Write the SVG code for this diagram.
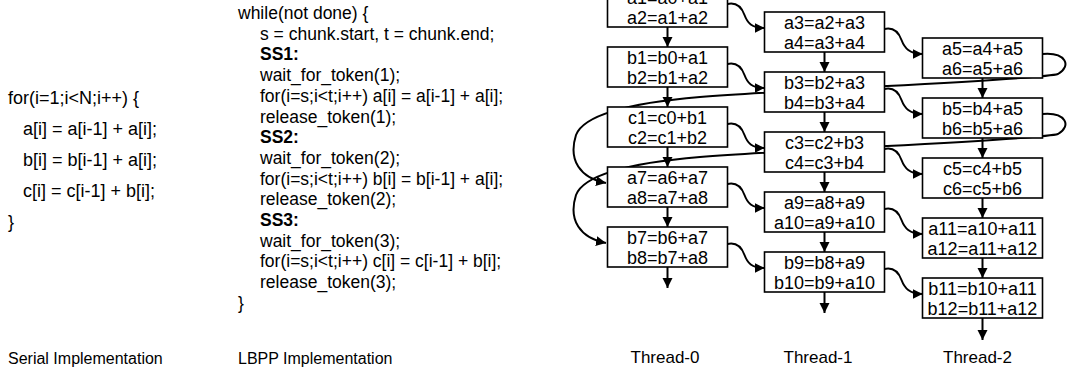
<svg xmlns="http://www.w3.org/2000/svg" width="1070" height="371" viewBox="0 0 1070 371">
<defs>
<style>
text{font-family:"Liberation Sans",Arial,sans-serif;fill:#000}
.code{font-size:18px}
.lb{font-size:17.5px}
.b{font-weight:bold}
.lab{font-size:16px}
.tl{font-size:17px;text-anchor:middle}
.box rect{fill:#fff;stroke:#000;stroke-width:1.6}
.box text{font-size:18px;text-anchor:middle}
.c{fill:none;stroke:#000;stroke-width:2;marker-end:url(#ah)}
</style>
<marker id="ah" markerUnits="userSpaceOnUse" markerWidth="11" markerHeight="11" refX="10" refY="5" orient="auto">
<path d="M0,0 L10,5 L0,10 z" fill="#000"/>
</marker>
</defs>
<rect width="1070" height="371" fill="#fff"/>

<g id="serial-code">
<text class="code" x="8" y="104">for(i=1;i&lt;N;i++) {</text>
<text class="code" x="23" y="135">a[i] = a[i-1] + a[i];</text>
<text class="code" x="23" y="166">b[i] = b[i-1] + a[i];</text>
<text class="code" x="23" y="197">c[i] = c[i-1] + b[i];</text>
<text class="code" x="8" y="228">}</text>
<text class="lab" x="8" y="364">Serial Implementation</text>
</g>

<g id="lbpp-code">
<text class="lb" x="238" y="19">while(not done) {</text>
<text class="lb" x="260" y="39.7">s = chunk.start, t = chunk.end;</text>
<text class="lb b" x="260" y="60.4">SS1:</text>
<text class="lb" x="260" y="81.1">wait_for_token(1);</text>
<text class="lb" x="260" y="101.8">for(i=s;i&lt;t;i++) a[i] = a[i-1] + a[i];</text>
<text class="lb" x="260" y="122.5">release_token(1);</text>
<text class="lb b" x="260" y="143.2">SS2:</text>
<text class="lb" x="260" y="163.9">wait_for_token(2);</text>
<text class="lb" x="260" y="184.6">for(i=s;i&lt;t;i++) b[i] = b[i-1] + a[i];</text>
<text class="lb" x="260" y="205.3">release_token(2);</text>
<text class="lb b" x="260" y="226">SS3:</text>
<text class="lb" x="260" y="246.7">wait_for_token(3);</text>
<text class="lb" x="260" y="267.4">for(i=s;i&lt;t;i++) c[i] = c[i-1] + b[i];</text>
<text class="lb" x="260" y="288.1">release_token(3);</text>
<text class="lb" x="238" y="308.8">}</text>
<text class="lab" x="238" y="364">LBPP Implementation</text>
</g>

<g id="connectors">
<line class="c" x1="667.5" y1="27" x2="667.5" y2="47"/>
<line class="c" x1="667.5" y1="87" x2="667.5" y2="107"/>
<line class="c" x1="667.5" y1="147" x2="667.5" y2="167"/>
<line class="c" x1="667.5" y1="207" x2="667.5" y2="227"/>
<line class="c" x1="667.5" y1="267" x2="667.5" y2="288"/>
<line class="c" x1="824.5" y1="52" x2="824.5" y2="72"/>
<line class="c" x1="824.5" y1="112" x2="824.5" y2="132"/>
<line class="c" x1="824.5" y1="172" x2="824.5" y2="192"/>
<line class="c" x1="824.5" y1="232" x2="824.5" y2="252"/>
<line class="c" x1="824.5" y1="292" x2="824.5" y2="313"/>
<line class="c" x1="982.5" y1="78" x2="982.5" y2="98"/>
<line class="c" x1="982.5" y1="138" x2="982.5" y2="158"/>
<line class="c" x1="982.5" y1="198" x2="982.5" y2="218"/>
<line class="c" x1="982.5" y1="258" x2="982.5" y2="278"/>
<line class="c" x1="982.5" y1="318" x2="982.5" y2="340"/>
<path class="c" d="M727.5,4 c9,-2 14,3 17,11 s7,13 20,13"/>
<path class="c" d="M727.5,64 c9,-2 14,3 17,11 s7,13 20,13"/>
<path class="c" d="M727.5,124 c9,-2 14,3 17,11 s7,13 20,13"/>
<path class="c" d="M727.5,184 c9,-2 14,3 17,11 s7,13 20,13"/>
<path class="c" d="M727.5,244 c9,-2 14,3 17,11 s7,13 20,13"/>
<path class="c" d="M884.5,29 c9,-2 14,3 17,11 s8,14 21,14"/>
<path class="c" d="M884.5,89 c9,-2 14,3 17,11 s8,14 21,14"/>
<path class="c" d="M884.5,149 c9,-2 14,3 17,11 s8,14 21,14"/>
<path class="c" d="M884.5,209 c9,-2 14,3 17,11 s8,14 21,14"/>
<path class="c" d="M884.5,269 c9,-2 14,3 17,11 s8,14 21,14"/>
<path class="c" d="M1042.5,54 C1066,52 1072,66 1058,74 C1040,80 820,88 700,97 C640,102 585,112 576,135 C568,160 580,178 606,183"/>
<path class="c" d="M1042.5,114 C1066,112 1072,126 1058,134 C1040,140 820,148 700,157 C640,162 585,172 576,195 C568,220 580,238 606,243"/>
</g>

<g id="t0-a1" class="box"><rect x="607.5" y="-13" width="120" height="40"/><text x="667.5" y="4">a1=a0+a1</text><text x="667.5" y="23.5">a2=a1+a2</text></g>
<g id="t0-b1" class="box"><rect x="607.5" y="47" width="120" height="40"/><text x="667.5" y="64">b1=b0+a1</text><text x="667.5" y="83.5">b2=b1+a2</text></g>
<g id="t0-c1" class="box"><rect x="607.5" y="107" width="120" height="40"/><text x="667.5" y="124">c1=c0+b1</text><text x="667.5" y="143.5">c2=c1+b2</text></g>
<g id="t0-a7" class="box"><rect x="607.5" y="167" width="120" height="40"/><text x="667.5" y="184">a7=a6+a7</text><text x="667.5" y="203.5">a8=a7+a8</text></g>
<g id="t0-b7" class="box"><rect x="607.5" y="227" width="120" height="40"/><text x="667.5" y="244">b7=b6+a7</text><text x="667.5" y="263.5">b8=b7+a8</text></g>

<g id="t1-a3" class="box"><rect x="764.5" y="12" width="120" height="40"/><text x="824.5" y="29">a3=a2+a3</text><text x="824.5" y="48.5">a4=a3+a4</text></g>
<g id="t1-b3" class="box"><rect x="764.5" y="72" width="120" height="40"/><text x="824.5" y="89">b3=b2+a3</text><text x="824.5" y="108.5">b4=b3+a4</text></g>
<g id="t1-c3" class="box"><rect x="764.5" y="132" width="120" height="40"/><text x="824.5" y="149">c3=c2+b3</text><text x="824.5" y="168.5">c4=c3+b4</text></g>
<g id="t1-a9" class="box"><rect x="764.5" y="192" width="120" height="40"/><text x="824.5" y="209">a9=a8+a9</text><text x="824.5" y="228.5">a10=a9+a10</text></g>
<g id="t1-b9" class="box"><rect x="764.5" y="252" width="120" height="40"/><text x="824.5" y="269">b9=b8+a9</text><text x="824.5" y="288.5">b10=b9+a10</text></g>

<g id="t2-a5" class="box"><rect x="922.5" y="38" width="120" height="40"/><text x="982.5" y="55">a5=a4+a5</text><text x="982.5" y="74.5">a6=a5+a6</text></g>
<g id="t2-b5" class="box"><rect x="922.5" y="98" width="120" height="40"/><text x="982.5" y="115">b5=b4+a5</text><text x="982.5" y="134.5">b6=b5+a6</text></g>
<g id="t2-c5" class="box"><rect x="922.5" y="158" width="120" height="40"/><text x="982.5" y="175">c5=c4+b5</text><text x="982.5" y="194.5">c6=c5+b6</text></g>
<g id="t2-a11" class="box"><rect x="922.5" y="218" width="120" height="40"/><text x="982.5" y="235">a11=a10+a11</text><text x="982.5" y="254.5">a12=a11+a12</text></g>
<g id="t2-b11" class="box"><rect x="922.5" y="278" width="120" height="40"/><text x="982.5" y="295">b11=b10+a11</text><text x="982.5" y="314.5">b12=b11+a12</text></g>

<g id="labels">
<text class="tl" x="665" y="363">Thread-0</text>
<text class="tl" x="818" y="363">Thread-1</text>
<text class="tl" x="977.5" y="363">Thread-2</text>
</g>
</svg>
